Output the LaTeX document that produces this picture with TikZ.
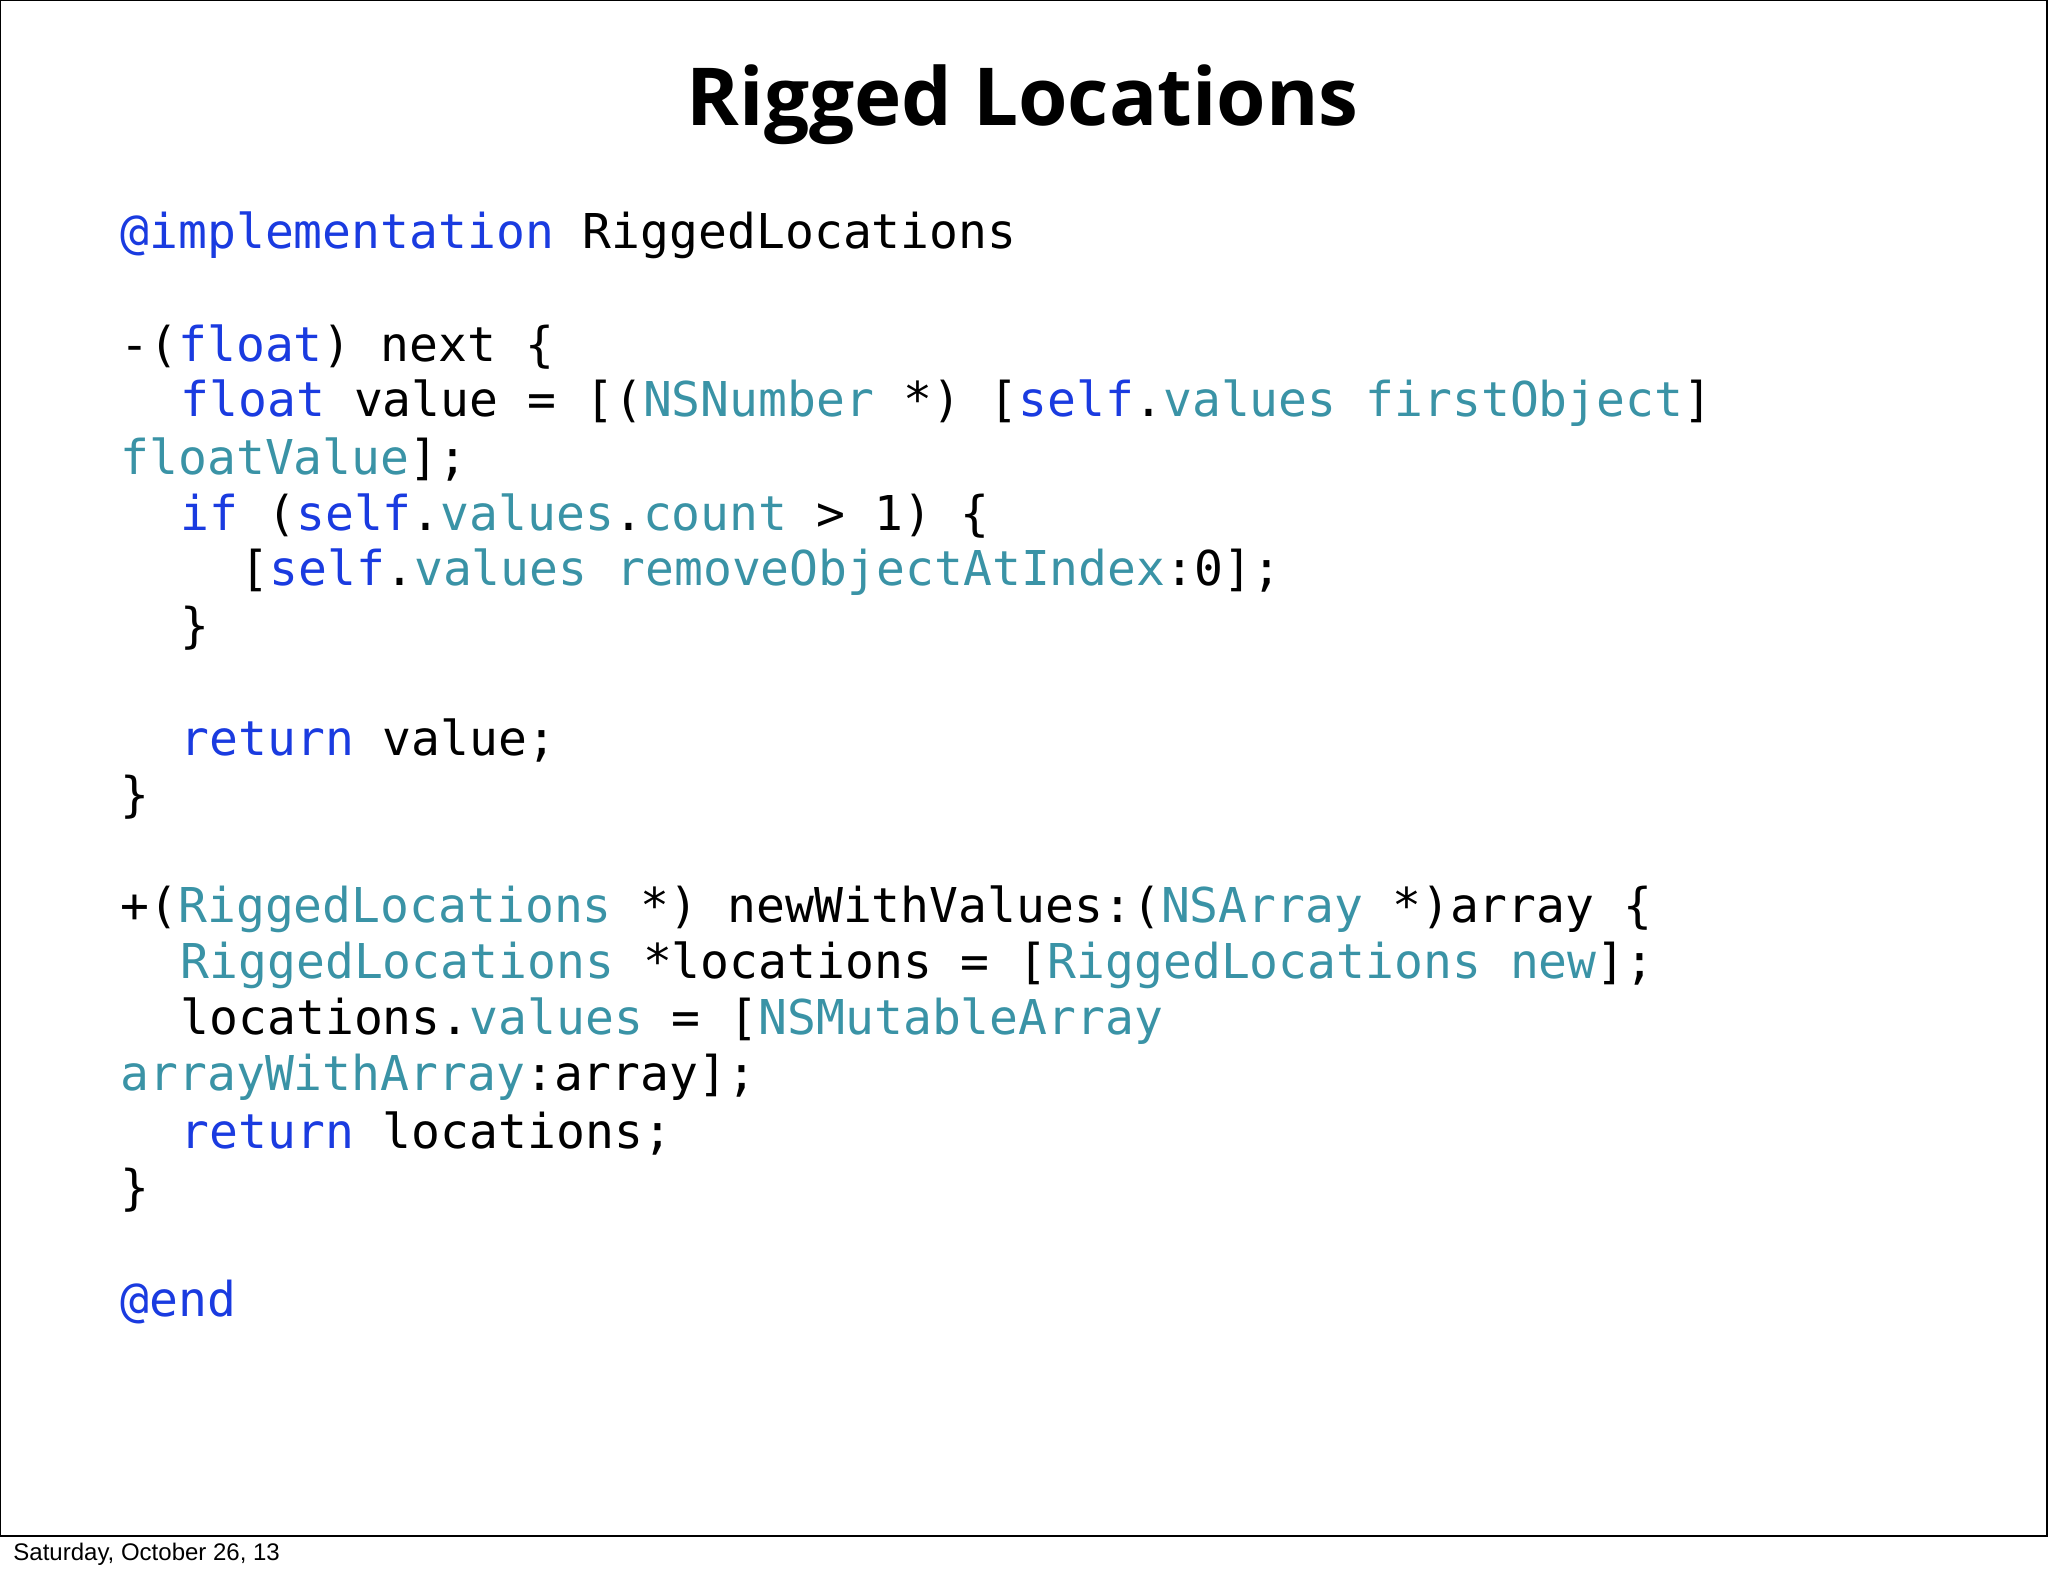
\documentclass[tikz,border=0pt]{standalone}
\usepackage{fontspec}
\setmainfont{Open Sans}
\setmonofont{DejaVu Sans Mono}
\newfontfamily\footfont{Liberation Sans}
\definecolor{kwc}{HTML}{1A3BE0}
\definecolor{tyc}{HTML}{3A93A6}
\newcommand{\kw}[1]{\textcolor{kwc}{#1}}
\newcommand{\ty}[1]{\textcolor{tyc}{#1}}
\begin{document}
\begin{tikzpicture}[x=0.653pt,y=-0.653pt,
  code/.style={anchor=west,inner sep=0pt,font=\ttfamily\fontsize{24}{28}\selectfont}]
\useasboundingbox (0,0) rectangle (1568,1207);
\draw[line width=0.8pt] (0.5,0.5) rectangle (1567,1176);
\node[font=\fontsize{40}{44}\selectfont\bfseries] (title) at (783,80) {Rigged Locations};
\node[code] (l1) at (92,180) {\kw{@implementation} RiggedLocations};
\node[code] (l2) at (92,266) {-(\kw{float}) next \{};
\node[code] (l3) at (138,309) {\kw{float} value = [(\ty{NSNumber} *) [\kw{self}.\ty{values} \ty{firstObject}]};
\node[code] (l4) at (92,352) {\ty{floatValue}];};
\node[code] (l5) at (138,395) {\kw{if} (\kw{self}.\ty{values}.\ty{count} > 1) \{};
\node[code] (l6) at (184,438) {[\kw{self}.\ty{values} \ty{removeObjectAtIndex}:0];};
\node[code] (l7) at (138,481) {\}};
\node[code] (l8) at (138,567) {\kw{return} value;};
\node[code] (l9) at (92,610) {\}};
\node[code] (l10) at (92,696) {+(\ty{RiggedLocations} *) newWithValues:(\ty{NSArray} *)array \{};
\node[code] (l11) at (138,739) {\ty{RiggedLocations} *locations = [\ty{RiggedLocations} \ty{new}];};
\node[code] (l12) at (138,782) {locations.\ty{values} = [\ty{NSMutableArray}};
\node[code] (l13) at (92,825) {\ty{arrayWithArray}:array];};
\node[code] (l14) at (138,868) {\kw{return} locations;};
\node[code] (l15) at (92,911) {\}};
\node[code] (l16) at (92,997) {\kw{@end}};
\node[anchor=west,inner sep=0pt,font=\footfont\fontsize{12}{14}\selectfont] (foot) at (10,1190) {Saturday, October 26, 13};
\end{tikzpicture}
\end{document}
